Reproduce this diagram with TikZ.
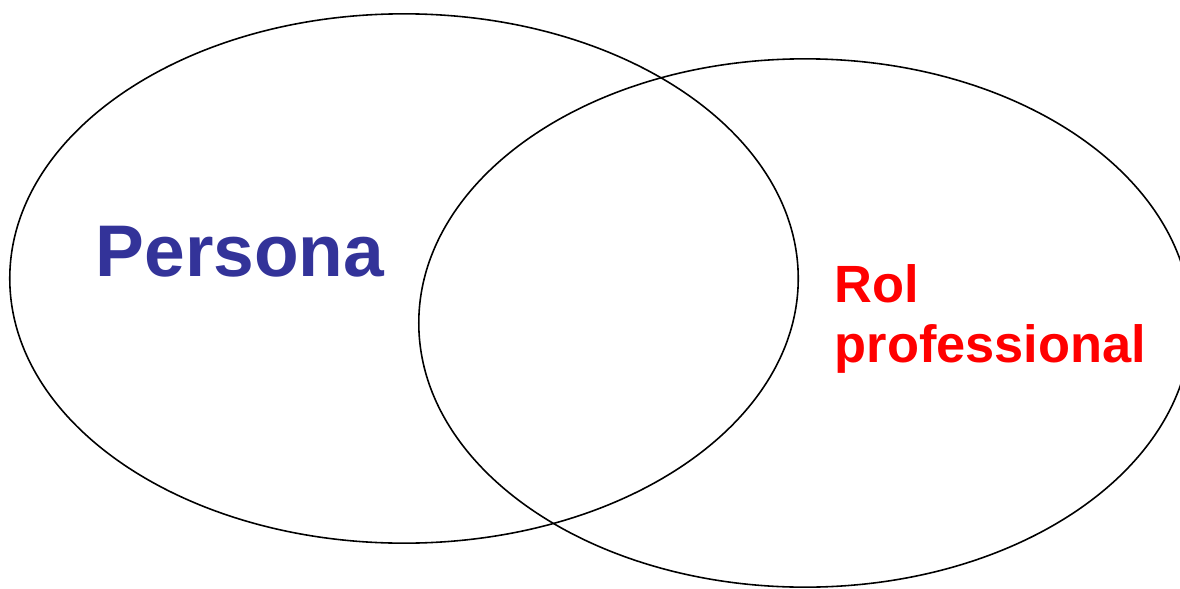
\documentclass[tikz,border=0pt]{standalone}
\usepackage{fontspec}
\setmainfont{Liberation Sans}
\usetikzlibrary{positioning,shapes.geometric}
\definecolor{persblue}{RGB}{51,51,153}
\definecolor{rolred}{RGB}{255,0,0}

\begin{document}
\begin{tikzpicture}[x=0.01cm,y=-0.01cm,
      set/.style={draw,ellipse,line width=0.45pt,inner sep=0pt,outer sep=0pt},
      lbl/.style={inner sep=0pt,font=\bfseries}]
    \useasboundingbox (0,0) rectangle (1180,588);
    \node[set,minimum width=7.88cm,minimum height=5.29cm] (pers) at (404,278.5) {};
    \node[set,minimum width=7.72cm,minimum height=5.28cm] (rol) at (805,323) {};
    \node[lbl,persblue,anchor=base west,font=\bfseries\fontsize{20.8}{24}\selectfont]
      (perslbl) at (95,276) {Persona};
    \node[lbl,rolred,anchor=north west,align=left,
      font=\bfseries\fontsize{14.9}{16.9}\selectfont]
      (rollbl) at (834,264) {Rol\\professional};
  \end{tikzpicture}
\end{document}
